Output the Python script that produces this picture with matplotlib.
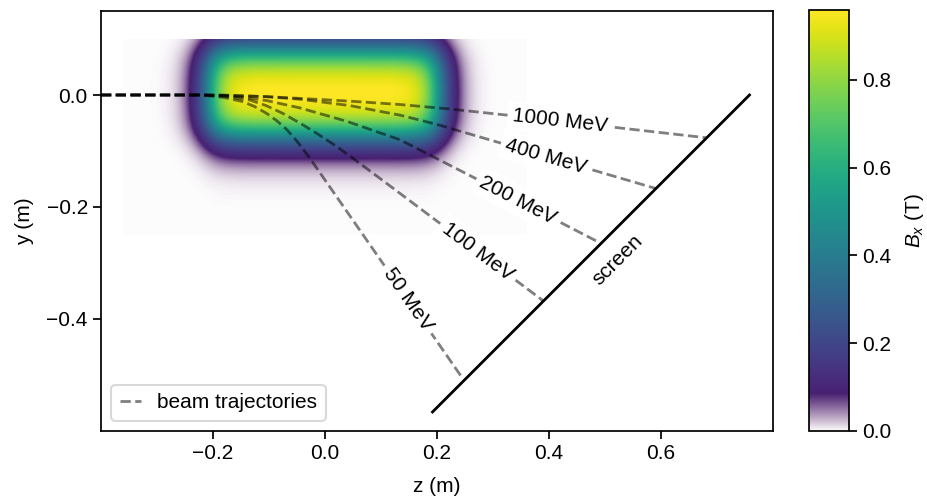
"""
Deflection of electron beams in a dipole magnet.
Field map B_x(z, y) of the magnet with the beam trajectories for several
energies, each one followed from the entrance axis up to the tilted screen.
"""

import numpy as np
import matplotlib.pyplot as plt
from matplotlib.colors import ListedColormap

# ==============================================================================
# 1. GLOBAL STYLE
# ==============================================================================
plt.rcParams['font.family'] = ['Liberation Sans', 'DejaVu Sans']
plt.rcParams['mathtext.fontset'] = 'custom'
plt.rcParams['mathtext.rm'] = 'Liberation Sans'
plt.rcParams['mathtext.it'] = 'Liberation Sans:italic'
plt.rcParams['font.size'] = 15

# ==============================================================================
# 2. DATA
# ==============================================================================

# Dipole magnet (m, T)
magnet_center = (-0.002, 0.0045)
magnet_half_length = 0.205
magnet_half_gap = 0.0735
fringe_z = 0.030
fringe_y = 0.038
peak_field = 1.0
field_extent = [-0.36, 0.36, -0.25, 0.10]

# Beam trajectories (z, y) in m, one per energy
energies = [50, 100, 200, 400, 1000]

z_50 = [-0.40, -0.22, -0.18, -0.146, -0.125, -0.104, -0.086, -0.068, -0.048, -0.027, 0.021, 0.245]
y_50 = [0.0, 0.0, -0.0045, -0.012, -0.021, -0.033, -0.046, -0.062, -0.085, -0.113, -0.182, -0.505]

z_100 = [-0.40, -0.22, -0.18, -0.134, -0.105, -0.075, -0.045, -0.014, 0.015, 0.050, 0.129, 0.389]
y_100 = [0.0, 0.0, -0.0023, -0.009, -0.019, -0.033, -0.050, -0.069, -0.088, -0.113, -0.172, -0.367]

z_200 = [-0.40, -0.22, -0.18, -0.146, -0.104, -0.045, 0.039, 0.134, 0.263, 0.491]
y_200 = [0.0, 0.0, -0.0011, -0.004, -0.010, -0.023, -0.047, -0.080, -0.146, -0.264]

z_400 = [-0.40, -0.22, -0.18, -0.104, -0.045, 0.045, 0.134, 0.200, 0.591]
y_400 = [0.0, 0.0, -0.0006, -0.003, -0.0075, -0.019, -0.036, -0.0525, -0.167]

z_1000 = [-0.40, -0.22, -0.18, -0.104, -0.045, 0.045, 0.134, 0.223, 0.321, 0.682]
y_1000 = [0.0, 0.0, -0.0002, -0.003, -0.006, -0.011, -0.017, -0.025, -0.0355, -0.0765]

trajectories = {
    50: (z_50, y_50),
    100: (z_100, y_100),
    200: (z_200, y_200),
    400: (z_400, y_400),
    1000: (z_1000, y_1000),
}

# z position of each inline energy label
label_z = {50: 0.148, 100: 0.273, 200: 0.345, 400: 0.395, 1000: 0.42}

# Screen end points (m)
screen_z = [0.192, 0.758]
screen_y = [-0.566, 0.0]
screen_label_pos = (0.523, -0.295)


# ==============================================================================
# 3. FIELD MAP
# ==============================================================================

def edge_profile(x, center, half_width, fringe):
    """Flat-top profile with soft (tanh) edges."""
    return 0.5 * (np.tanh((x - center + half_width) / fringe)
                  - np.tanh((x - center - half_width) / fringe))


def field_map(n_z=480, n_y=240):
    z = np.linspace(field_extent[0], field_extent[1], n_z)
    y = np.linspace(field_extent[2], field_extent[3], n_y)
    zz, yy = np.meshgrid(z, y)
    bx = (peak_field
          * edge_profile(zz, magnet_center[0], magnet_half_length, fringe_z)
          * edge_profile(yy, magnet_center[1], magnet_half_gap, fringe_y))
    return bx


def white_viridis(n=1024, fade=0.09, start=0.008):
    """Viridis whose lowest values fade into white."""
    colors = plt.get_cmap('viridis')(np.linspace(0, 1, n))
    n_fade = int(fade * n)
    t = np.linspace(start, 1.0, n_fade)[:, None]
    colors[:n_fade, :3] = (1 - t) + t * colors[:n_fade, :3]
    return ListedColormap(colors)


# ==============================================================================
# 4. PLOT
# ==============================================================================

def main():
    fig = plt.figure(figsize=(9.28, 5.01), dpi=100)
    ax = fig.add_axes([101 / 928, 70 / 501, 672 / 928, 420 / 501])
    cax = fig.add_axes([809 / 928, 70 / 501, 40 / 928, 421 / 501])

    bx = field_map()
    im = ax.imshow(bx, origin='lower', extent=field_extent, cmap=white_viridis(),
                   vmin=0.0, vmax=bx.max(), interpolation='bilinear', zorder=0)

    # Trajectories
    for i, energy in enumerate(energies):
        zs, ys = trajectories[energy]
        ax.plot(zs, ys, color='k', alpha=0.5, lw=2, ls='--', zorder=2,
                label='beam trajectories' if i == 0 else None)

        # inline label, rotated along the trajectory
        zl = label_z[energy]
        yl = np.interp(zl, zs, ys)
        dz = 0.01
        angle = np.degrees(np.arctan2(np.interp(zl + dz, zs, ys) - np.interp(zl - dz, zs, ys), 2 * dz))
        ax.text(zl, yl, f'{energy} MeV', rotation=angle, rotation_mode='anchor',
                ha='center', va='center', fontsize=15, zorder=3,
                bbox=dict(boxstyle='square,pad=0.25', fc='white', ec='none'))

    # Screen
    ax.plot(screen_z, screen_y, color='k', lw=2, zorder=2)
    ax.text(*screen_label_pos, 'screen', rotation=45, rotation_mode='anchor',
            ha='center', va='center', fontsize=15)

    ax.set_xlim(-0.4, 0.8)
    ax.set_ylim(-0.6, 0.15)
    ax.set_aspect('equal', adjustable='box')
    ax.set_xticks([-0.2, 0.0, 0.2, 0.4, 0.6])
    ax.set_yticks([-0.4, -0.2, 0.0])
    ax.set_xlabel('z (m)', fontsize=15, labelpad=10)
    ax.set_ylabel('y (m)', fontsize=15, labelpad=9)

    for spine in ax.spines.values():
        spine.set_linewidth(1.25)
    ax.tick_params(direction='out', length=6, width=1.25, labelsize=15)

    leg = ax.legend(loc='lower left', fontsize=15, handlelength=1.0, fancybox=True,
                    framealpha=1.0)
    leg.get_frame().set_edgecolor('#d9d9d9')
    leg.get_frame().set_linewidth(1.5)

    cbar = fig.colorbar(im, cax=cax)
    cbar.set_ticks([0.0, 0.2, 0.4, 0.6, 0.8])
    cbar.set_label(r'$B_x$ (T)', fontsize=15, labelpad=8)
    cbar.outline.set_linewidth(1.25)
    cax.tick_params(direction='out', length=6, width=1.25, labelsize=15)

    fig.savefig('out.png', dpi=100)
    plt.close(fig)


if __name__ == '__main__':
    main()
